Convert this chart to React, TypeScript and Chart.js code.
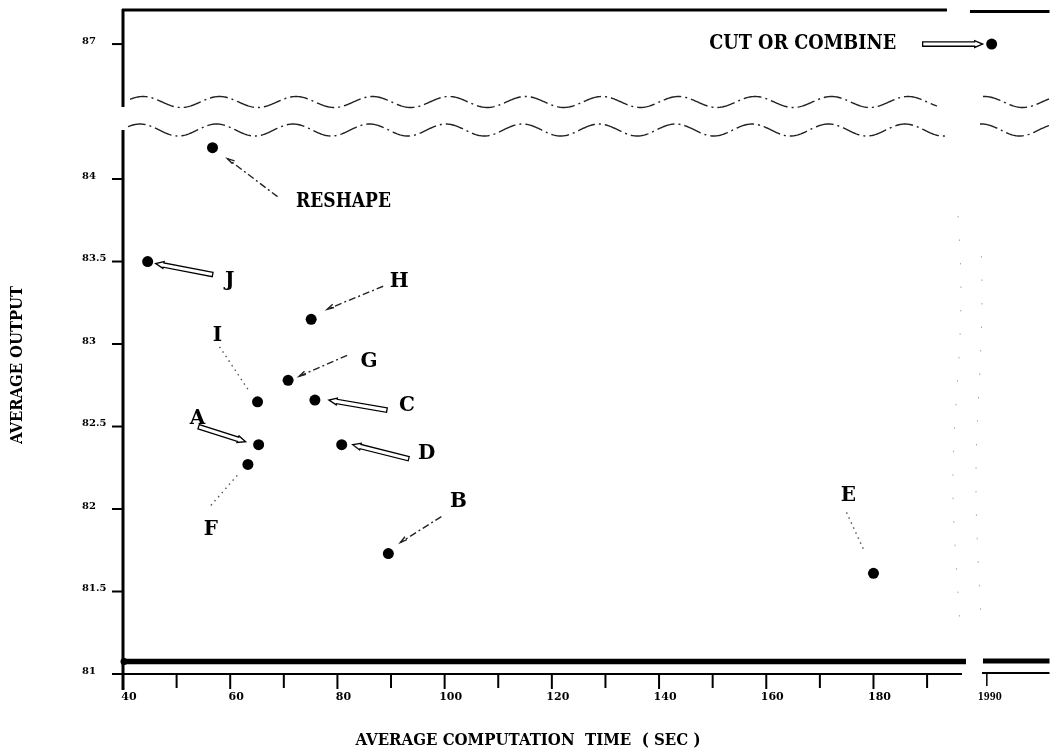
import React, { useEffect, useRef } from 'react';
import { Chart, registerables } from 'chart.js';

Chart.register(...registerables);

// ---- data ----
const pointNames = ['RESHAPE', 'J', 'H', 'I', 'G', 'C', 'A', 'D', 'F', 'B', 'E'];
const computeTime = [56.7, 44.6, 75.1, 65.1, 70.8, 75.8, 65.3, 80.8, 63.3, 89.5, 180.0];
const averageOutput = [84.19, 83.5, 83.15, 82.65, 82.78, 82.66, 82.39, 82.39, 82.27, 81.73, 81.61];

const farNames = ['CUT OR COMBINE'];
const farTime = [1990.9];
const farOutput = [87];

const xMajorTicks = [40, 60, 80, 100, 120, 140, 160, 180];
const xMinorTicks = [50, 70, 90, 110, 130, 150, 170, 190];
const xFarTicks = [1990];
const yLowTicks = [81, 81.5, 82, 82.5, 83, 83.5, 84];
const yHighTicks = [87];

const xTitle = 'AVERAGE COMPUTATION  TIME  ( SEC )';
const yTitle = 'AVERAGE OUTPUT';

// ---- annotation layout (pixel offsets from each point) ----
type Ann = { lx: number; ly: number; w?: number; tx: number; ty: number; hx: number; hy: number; kind: 'hollow' | 'dash' | 'dot' };
const annotations: Record<string, Ann> = {
  RESHAPE: { lx: 131, ly: 54, w: 95, tx: 65, ty: 49, hx: 15, hy: 11, kind: 'dash' },
  J: { lx: 82, ly: 19, tx: 65, ty: 13, hx: 8, hy: 2, kind: 'hollow' },
  H: { lx: 88, ly: -37, tx: 72, ty: -33, hx: 16, hy: -10, kind: 'dash' },
  I: { lx: -40, ly: -66, tx: -38, ty: -55, hx: -8, hy: -10, kind: 'dot' },
  G: { lx: 81, ly: -19, tx: 59, ty: -25, hx: 11, hy: -4, kind: 'dash' },
  C: { lx: 92, ly: 6, tx: 72, ty: 10, hx: 14, hy: 0, kind: 'hollow' },
  A: { lx: -61, ly: -26, tx: -60, ty: -18, hx: -13, hy: -3, kind: 'hollow' },
  D: { lx: 85, ly: 9, tx: 67, ty: 14, hx: 11, hy: 0, kind: 'hollow' },
  F: { lx: -37, ly: 65, tx: -37, ty: 41, hx: -9, hy: 9, kind: 'dot' },
  B: { lx: 70, ly: -52, tx: 53, ty: -37, hx: 12, hy: -11, kind: 'dash' },
  E: { lx: -25, ly: -78, tx: -27, ty: -61, hx: -10, hy: -24, kind: 'dot' },
  'CUT OR COMBINE': { lx: -189, ly: 0, w: 187, tx: -69, ty: 0, hx: -9, hy: 0, kind: 'hollow' },
};

const SERIF = '"DejaVu Serif", "Liberation Serif", serif';

function drawText(ctx: CanvasRenderingContext2D, text: string, cx: number, cy: number, size: number, targetW?: number, rot = 0) {
  ctx.save();
  ctx.font = `bold ${size}px ${SERIF}`;
  ctx.textAlign = 'center';
  ctx.textBaseline = 'middle';
  ctx.fillStyle = '#000';
  ctx.translate(cx, cy);
  if (rot) ctx.rotate(rot);
  if (targetW) {
    const w = ctx.measureText(text).width;
    ctx.scale(targetW / w, 1);
  }
  ctx.fillText(text, 0, 0);
  ctx.restore();
}

function line(ctx: CanvasRenderingContext2D, x1: number, y1: number, x2: number, y2: number, w: number, dash: number[] = [], color = '#000') {
  ctx.save();
  ctx.strokeStyle = color;
  ctx.lineWidth = w;
  ctx.setLineDash(dash);
  ctx.beginPath();
  ctx.moveTo(x1, y1);
  ctx.lineTo(x2, y2);
  ctx.stroke();
  ctx.restore();
}

function wave(ctx: CanvasRenderingContext2D, x1: number, x2: number, yc: number, amp: number, period: number, peakX: number) {
  ctx.save();
  ctx.strokeStyle = '#222';
  ctx.lineWidth = 1.4;
  ctx.setLineDash([18, 4, 2, 4]);
  ctx.beginPath();
  for (let x = x1; x <= x2; x += 1) {
    const y = yc - amp * Math.cos(((x - peakX) / period) * 2 * Math.PI);
    if (x === x1) ctx.moveTo(x, y);
    else ctx.lineTo(x, y);
  }
  ctx.stroke();
  ctx.restore();
}

function arrow(ctx: CanvasRenderingContext2D, tx: number, ty: number, hx: number, hy: number, kind: string) {
  const dx = hx - tx, dy = hy - ty;
  const len = Math.hypot(dx, dy);
  const ux = dx / len, uy = dy / len;
  const nx = -uy, ny = ux;
  ctx.save();
  if (kind === 'hollow') {
    const w = 2.2, hw = 3.4, hl = 8;
    const bx = hx - ux * hl, by = hy - uy * hl;
    ctx.beginPath();
    ctx.moveTo(tx + nx * w, ty + ny * w);
    ctx.lineTo(bx + nx * w, by + ny * w);
    ctx.lineTo(bx + nx * hw, by + ny * hw);
    ctx.lineTo(hx, hy);
    ctx.lineTo(bx - nx * hw, by - ny * hw);
    ctx.lineTo(bx - nx * w, by - ny * w);
    ctx.lineTo(tx - nx * w, ty - ny * w);
    ctx.closePath();
    ctx.fillStyle = '#fff';
    ctx.fill();
    ctx.strokeStyle = '#000';
    ctx.lineWidth = 1.3;
    ctx.stroke();
  } else if (kind === 'dash') {
    ctx.strokeStyle = '#222';
    ctx.lineWidth = 1.4;
    ctx.setLineDash([7, 3, 2, 3]);
    ctx.beginPath();
    ctx.moveTo(tx, ty);
    ctx.lineTo(hx, hy);
    ctx.stroke();
    ctx.setLineDash([]);
    ctx.beginPath();
    ctx.moveTo(hx - ux * 7 + nx * 2.5, hy - uy * 7 + ny * 2.5);
    ctx.lineTo(hx, hy);
    ctx.lineTo(hx - ux * 7 - nx * 1, hy - uy * 7 - ny * 1);
    ctx.stroke();
  } else {
    ctx.strokeStyle = '#555';
    ctx.lineWidth = 1.4;
    ctx.setLineDash([1.5, 4]);
    ctx.beginPath();
    ctx.moveTo(tx, ty);
    ctx.lineTo(hx, hy);
    ctx.stroke();
  }
  ctx.restore();
}

const framePlugin = {
  id: 'brokenFrame',
  beforeDatasetsDraw(chart: any) {
    const ctx: CanvasRenderingContext2D = chart.ctx;
    const xs = chart.scales.x, x2 = chart.scales.x2, ys = chart.scales.y, y2 = chart.scales.y2;
    const ca = chart.chartArea;
    const brk = xs.right; // x break
    const ybrk = ys.top; // y break
    const axisY = ys.getPixelForValue(81);
    const left = xs.left;

    // top frame
    line(ctx, left - 1, ca.top, brk - 23, ca.top, 3);
    line(ctx, brk, ca.top + 1.5, ca.right, ca.top + 1.5, 3);

    // left axis segments
    line(ctx, left, ca.top - 1, left, ybrk - 9, 3);
    line(ctx, left, ybrk + 14, left, axisY + 16, 3);

    // wavy break lines
    wave(ctx, left + 7, brk - 32, ybrk - 14, 5.5, 76.5, 143);
    wave(ctx, brk + 13, ca.right, ybrk - 14, 5.5, 76.5, 143);
    wave(ctx, left + 5, brk - 22, ybrk + 14, 6, 76.5, 140);
    wave(ctx, brk + 10, ca.right, ybrk + 14, 6, 76.5, 140);

    // faint vertical break marks
    ctx.save();
    ctx.strokeStyle = 'rgba(90,90,90,0.55)';
    ctx.lineWidth = 1;
    ctx.setLineDash([1.5, 22]);
    ctx.beginPath();
    for (let y = ybrk + 100; y <= axisY - 35; y += 2) {
      const x = brk - 13 + 4 * Math.sin((y - 200) / 60);
      if (y === ybrk + 100) ctx.moveTo(x, y); else ctx.lineTo(x, y);
    }
    ctx.stroke();
    ctx.beginPath();
    for (let y = ybrk + 140; y <= axisY - 45; y += 2) {
      const x = brk + 9 + 3 * Math.sin((y - 200) / 60);
      if (y === ybrk + 140) ctx.moveTo(x, y); else ctx.lineTo(x, y);
    }
    ctx.stroke();
    ctx.restore();

    // bottom double line
    line(ctx, left, axisY - 12.5, brk - 4, axisY - 12.5, 5.5);
    line(ctx, brk + 13, axisY - 13, ca.right, axisY - 13, 5);
    line(ctx, left, axisY, brk - 8, axisY, 2);
    line(ctx, brk + 12, axisY - 1, ca.right, axisY - 1, 2);
    ctx.save();
    ctx.beginPath();
    ctx.arc(left + 1, axisY - 12.5, 3.5, 0, Math.PI * 2);
    ctx.fillStyle = '#000';
    ctx.fill();
    ctx.restore();

    // x ticks
    for (const v of xMajorTicks) {
      const px = xs.getPixelForValue(v);
      line(ctx, px, axisY, px, axisY + 15, 2);
      drawText(ctx, String(v), px + 6, axisY + 23, 11);
    }
    for (const v of xMinorTicks) {
      const px = xs.getPixelForValue(v);
      line(ctx, px, axisY, px, axisY + 14, 2);
    }
    for (const v of xFarTicks) {
      const px = x2.getPixelForValue(v);
      line(ctx, px, axisY, px, axisY + 12, 1.5);
      drawText(ctx, String(v), px + 3, axisY + 23, 11, 24);
    }

    // y ticks
    ctx.save();
    ctx.font = `bold 10px ${SERIF}`;
    ctx.textAlign = 'left';
    ctx.textBaseline = 'middle';
    ctx.fillStyle = '#000';
    for (const v of yLowTicks) {
      const py = ys.getPixelForValue(v);
      line(ctx, left - 11, py, left, py, 2);
      ctx.fillText(String(v), 82, py - 3);
    }
    for (const v of yHighTicks) {
      const py = y2.getPixelForValue(v);
      line(ctx, left - 11, py, left, py, 2);
      ctx.fillText(String(v), 82, py - 3);
    }
    ctx.restore();

    // axis titles
    drawText(ctx, xTitle, 528, 741, 17, 345);
    drawText(ctx, yTitle, 18, 365, 17, 158, -Math.PI / 2);
  },
  afterDatasetsDraw(chart: any) {
    const ctx: CanvasRenderingContext2D = chart.ctx;
    const groups: [number, string[]][] = [[0, pointNames], [1, farNames]];
    for (const [di, names] of groups) {
      const meta = chart.getDatasetMeta(di);
      meta.data.forEach((el: any, i: number) => {
        const a = annotations[names[i]];
        if (!a) return;
        const px = el.x, py = el.y;
        arrow(ctx, px + a.tx, py + a.ty, px + a.hx, py + a.hy, a.kind);
        drawText(ctx, names[i], px + a.lx, py + a.ly, 20, a.w);
      });
    }
  },
};

export default function App() {
  const ref = useRef<HTMLCanvasElement | null>(null);
  useEffect(() => {
    if (!ref.current) return;
    const chart = new Chart(ref.current, {
      type: 'scatter',
      data: {
        datasets: [
          {
            label: 'near',
            data: computeTime.map((t, i) => ({ x: t, y: averageOutput[i] })),
            xAxisID: 'x',
            yAxisID: 'y',
            pointRadius: 5.5,
            pointBackgroundColor: '#000',
            pointBorderWidth: 0,
            clip: false as any,
          },
          {
            label: 'far',
            data: farTime.map((t, i) => ({ x: t, y: farOutput[i] })),
            xAxisID: 'x2',
            yAxisID: 'y2',
            pointRadius: 5.5,
            pointBackgroundColor: '#000',
            pointBorderWidth: 0,
            clip: false as any,
          },
        ],
      },
      options: {
        animation: false,
        responsive: false,
        layout: { padding: { left: 123, top: 10, right: 0, bottom: 82 } },
        plugins: { legend: { display: false }, tooltip: { enabled: false } },
        scales: {
          x: { type: 'linear', axis: 'x', position: 'bottom', min: 40, max: 198, stack: 'xs', stackWeight: 852, display: false },
          x2: { type: 'linear', axis: 'x', position: 'bottom', min: 1986.85, max: 2001.7, stack: 'xs', stackWeight: 80, display: false },
          y: { type: 'linear', axis: 'y', position: 'left', min: 81, max: 84.382, stack: 'ys', stackWeight: 558, display: false },
          y2: { type: 'linear', axis: 'y', position: 'left', min: 86.565, max: 87.206, stack: 'ys', stackWeight: 106, display: false },
        } as any,
      },
      plugins: [framePlugin],
    });
    return () => chart.destroy();
  }, []);
  return (
    <div style={{ position: 'absolute', left: 0, top: 0, width: 1055, height: 756, background: '#fff' }}>
      <canvas ref={ref} width={1055} height={756} style={{ display: 'block' }} />
    </div>
  );
}
